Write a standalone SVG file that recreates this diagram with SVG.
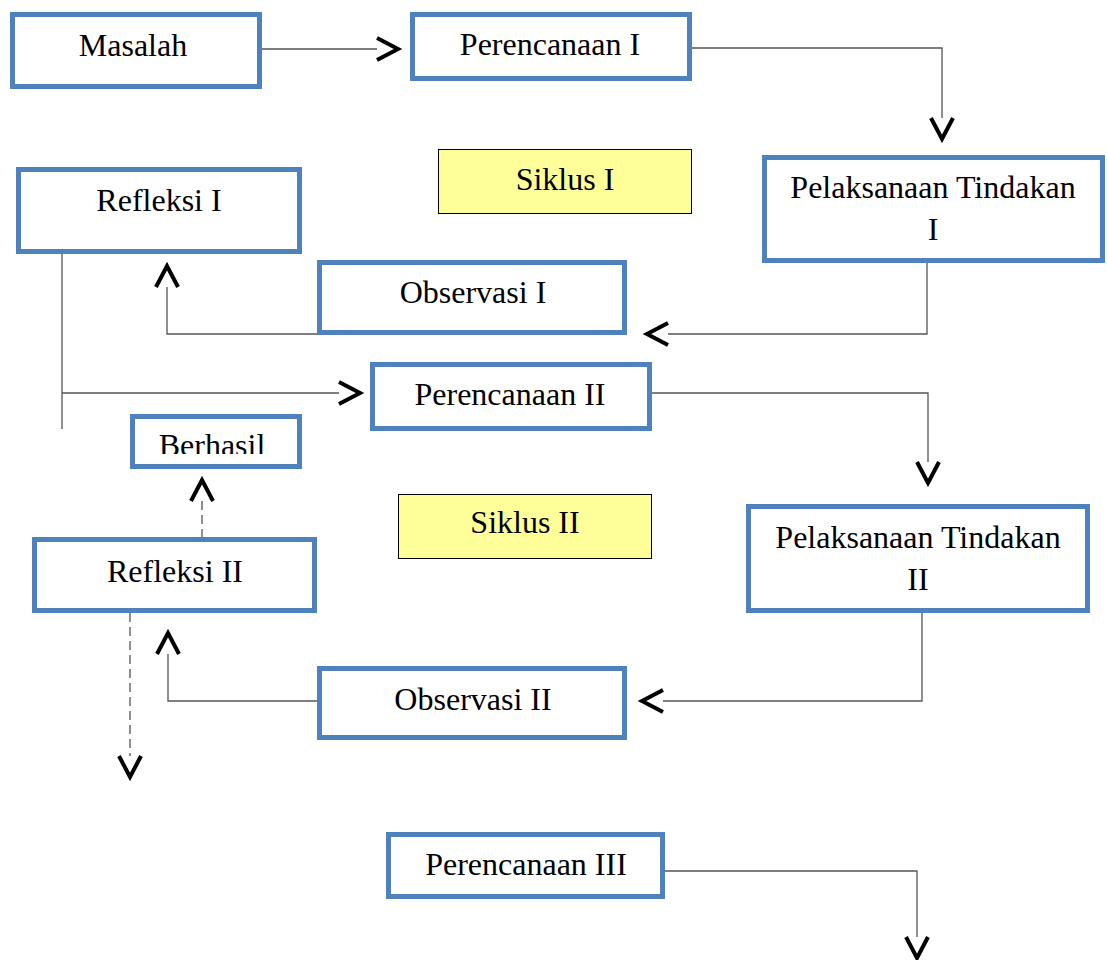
<svg xmlns="http://www.w3.org/2000/svg" width="1107" height="960" viewBox="0 0 1107 960">
<style>
.box{fill:#fff;stroke:#4F81BD;stroke-width:5}
.cyc{fill:#FFFF99;stroke:#000;stroke-width:1}
.t{font-family:"Liberation Serif","Times New Roman",serif;font-size:32px;fill:#000;text-anchor:middle}
.c{fill:none;stroke:#555;stroke-width:1.3}
.d{stroke-dasharray:9 5}
</style>
<defs>
<marker id="chev" markerUnits="userSpaceOnUse" markerWidth="26" markerHeight="26" refX="0" refY="11" orient="auto" overflow="visible">
<path d="M0,0 L21,11 L0,22" fill="none" stroke="#000" stroke-width="4" stroke-dasharray="none"/>
</marker>
<clipPath id="bclip"><rect x="135" y="419" width="162" height="35"/></clipPath>
</defs>
<rect width="1107" height="960" fill="#fff"/>
<g id="connectors">
<path class="c" d="M262,49 H377" marker-end="url(#chev)"/>
<path class="c" d="M692,48 H942 V118" marker-end="url(#chev)"/>
<path class="c" d="M927,263 V334 H668" marker-end="url(#chev)"/>
<path class="c" d="M318,334 H167 V287" marker-end="url(#chev)"/>
<path class="c" d="M62,236 V429"/>
<path class="c" d="M62,393 H339" marker-end="url(#chev)"/>
<path class="c" d="M652,393 H928 V462" marker-end="url(#chev)"/>
<path class="c" d="M922,613 V701 H663" marker-end="url(#chev)"/>
<path class="c" d="M318,701 H168 V654" marker-end="url(#chev)"/>
<path class="c d" d="M202,538 V501" marker-end="url(#chev)"/>
<path class="c d" d="M130,613 V756" marker-end="url(#chev)"/>
<path class="c" d="M665,871 H917 V937" marker-end="url(#chev)"/>
</g>
<g id="masalah"><rect class="box" x="12.5" y="14.5" width="247" height="72"/><text class="t" x="133" y="56">Masalah</text></g>
<g id="perencanaan1"><rect class="box" x="412.5" y="14.5" width="277" height="64"/><text class="t" x="550" y="55">Perencanaan I</text></g>
<g id="siklus1"><rect class="cyc" x="438.5" y="149.5" width="253" height="64"/><text class="t" x="565" y="190">Siklus I</text></g>
<g id="pelaksanaan1"><rect class="box" x="764.5" y="157.5" width="338" height="103"/><text class="t" x="933" y="198">Pelaksanaan Tindakan</text><text class="t" x="933" y="240">I</text></g>
<g id="refleksi1"><rect class="box" x="18.5" y="169.5" width="281" height="82"/><text class="t" x="159" y="211">Refleksi I</text></g>
<g id="observasi1"><rect class="box" x="319.5" y="262.5" width="305" height="70"/><text class="t" x="473" y="303">Observasi I</text></g>
<g id="perencanaan2"><rect class="box" x="372.5" y="364.5" width="277" height="64"/><text class="t" x="510" y="405">Perencanaan II</text></g>
<g id="berhasil"><rect class="box" x="132.5" y="416.5" width="167" height="50"/><text class="t" x="212" y="456" clip-path="url(#bclip)">Berhasil</text></g>
<g id="siklus2"><rect class="cyc" x="398.5" y="494.5" width="253" height="64"/><text class="t" x="525" y="533">Siklus II</text></g>
<g id="pelaksanaan2"><rect class="box" x="748.5" y="506.5" width="339" height="104"/><text class="t" x="918" y="548">Pelaksanaan Tindakan</text><text class="t" x="918" y="590">II</text></g>
<g id="refleksi2"><rect class="box" x="34.5" y="539.5" width="280" height="71"/><text class="t" x="175" y="582">Refleksi II</text></g>
<g id="observasi2"><rect class="box" x="319.5" y="668.5" width="305" height="69"/><text class="t" x="473" y="710">Observasi II</text></g>
<g id="perencanaan3"><rect class="box" x="388.5" y="834.5" width="274" height="62"/><text class="t" x="526" y="875">Perencanaan III</text></g>
</svg>
